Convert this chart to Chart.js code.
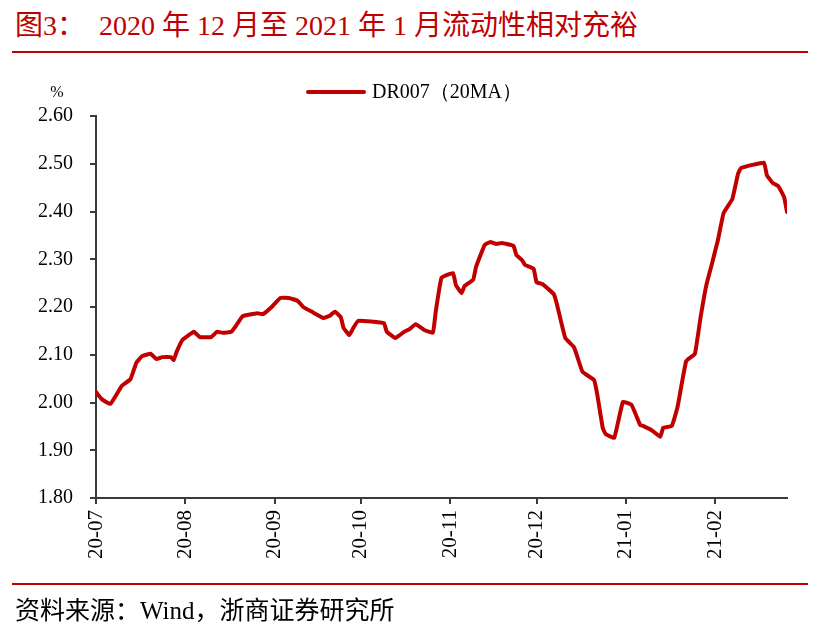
<!DOCTYPE html>
<html>
<head>
<meta charset="utf-8">
<script src="https://cdn.jsdelivr.net/npm/chart.js@4"></script>
<style>
  body { margin: 0; background: #fff; }
  #page { position: relative; width: 816px; height: 629px; overflow: hidden; background: #fff; }
  .title { position: absolute; left: 15px; top: 8px; font: 28px "Liberation Serif", "Noto Sans CJK SC", serif; color: #c00000; white-space: pre; line-height: 36px; }
  .rule { position: absolute; left: 12px; width: 796px; height: 2px; background: #c00000; }
  .source { position: absolute; left: 15px; top: 594px; font: 25px "Liberation Serif", "Noto Sans CJK SC", serif; color: #000; line-height: 34px; white-space: pre; }
  canvas { position: absolute; left: 0; top: 0; }
</style>
</head>
<body>
<div id="page">
  <div class="title">图3：  2020 年 12 月至 2021 年 1 月流动性相对充裕</div>
  <div class="rule" style="top:51px"></div>
  <canvas id="chart" width="816" height="629"></canvas>
  <div class="rule" style="top:583px"></div>
  <div class="source">资料来源：Wind，浙商证券研究所</div>
</div>
<script>
// days since 2020-07-01
const days = [0, 2, 5, 9, 12, 14, 16, 19, 21, 23, 26, 27, 28, 30, 34, 36, 40, 42, 44, 47,
  49, 51, 56, 58, 61, 64, 67, 70, 72, 75, 79, 81, 83, 85, 86, 88, 89, 91, 100, 101,
  104, 107, 109, 111, 114, 117, 118, 120, 124, 125, 127, 128, 131, 132, 135, 137, 139, 141, 145, 146,
  148, 149, 152, 153, 155, 157, 159, 160, 163, 166, 167, 169, 173, 174, 176, 177, 180, 183, 186, 189,
  190, 193, 196, 197, 200, 202, 205, 208, 210, 212, 214, 216, 218, 221, 223, 224, 232, 233, 235, 237,
  239, 240];
const dr007 = [2.022, 2.007, 1.997, 2.035, 2.049, 2.083, 2.097, 2.102, 2.091, 2.095, 2.095, 2.089, 2.106, 2.131, 2.148, 2.137, 2.137, 2.148, 2.146, 2.148,
  2.164, 2.181, 2.187, 2.185, 2.200, 2.219, 2.219, 2.213, 2.200, 2.190, 2.177, 2.181, 2.190, 2.179, 2.156, 2.141, 2.152, 2.171, 2.166, 2.148,
  2.135, 2.148, 2.154, 2.164, 2.152, 2.146, 2.190, 2.261, 2.271, 2.246, 2.229, 2.244, 2.257, 2.284, 2.330, 2.336, 2.332, 2.334, 2.328, 2.309,
  2.298, 2.288, 2.280, 2.252, 2.248, 2.238, 2.227, 2.208, 2.135, 2.116, 2.099, 2.064, 2.047, 2.020, 1.947, 1.934, 1.926, 2.001, 1.995, 1.953,
  1.951, 1.942, 1.928, 1.947, 1.951, 1.991, 2.087, 2.102, 2.179, 2.246, 2.292, 2.340, 2.397, 2.426, 2.479, 2.491, 2.502, 2.476, 2.460, 2.453,
  2.430, 2.399];
const monthTicks = [0, 31, 62, 92, 123, 153, 184, 215];
const monthLabels = ['20-07', '20-08', '20-09', '20-10', '20-11', '20-12', '21-01', '21-02'];

const RED = '#c00000';
const AXIS = '#3a3a3a';
const SERIF = '"Liberation Serif", "Times New Roman", serif';

const extras = {
  id: 'extras',
  afterDraw(chart) {
    const ctx = chart.ctx;
    ctx.save();
    // legend
    ctx.strokeStyle = RED;
    ctx.lineWidth = 4;
    ctx.lineCap = 'round';
    ctx.beginPath();
    ctx.moveTo(308, 92);
    ctx.lineTo(364, 92);
    ctx.stroke();
    ctx.fillStyle = '#000';
    ctx.font = '20px ' + SERIF;
    ctx.textBaseline = 'middle';
    ctx.fillText(chart.data.datasets[0].label, 372, 93);
    // unit
    ctx.font = '16px ' + SERIF;
    ctx.textAlign = 'center';
    ctx.fillText('%', 57, 93);
    ctx.restore();
  }
};

new Chart(document.getElementById('chart'), {
  type: 'line',
  data: {
    datasets: [{
      label: 'DR007（20MA）',
      data: days.map((d, i) => ({ x: d, y: dr007[i] })),
      borderColor: RED,
      borderWidth: 4,
      pointRadius: 0,
      tension: 0.1,
      borderJoinStyle: 'round',
      borderCapStyle: 'round'
    }]
  },
  options: {
    responsive: false,
    animation: false,
    layout: { padding: { left: 0, top: 116, right: 29, bottom: 31 } },
    plugins: { legend: { display: false }, tooltip: { enabled: false } },
    scales: {
      x: {
        type: 'linear',
        min: 0,
        max: 240,
        afterBuildTicks: (scale) => { scale.ticks = monthTicks.map(v => ({ value: v })); },
        afterFit: (scale) => { scale.height = 100; },
        border: { color: AXIS, width: 2 },
        grid: { drawOnChartArea: false, color: AXIS, lineWidth: 2, tickLength: 6 },
        ticks: {
          color: '#000',
          font: { family: SERIF, size: 21 },
          minRotation: 90,
          maxRotation: 90,
          padding: 6,
          autoSkip: false,
          callback: (v) => monthLabels[monthTicks.indexOf(v)]
        }
      },
      y: {
        min: 1.8,
        max: 2.6,
        afterFit: (scale) => { scale.width = 96; },
        border: { color: AXIS, width: 2 },
        grid: { drawOnChartArea: false, color: AXIS, lineWidth: 2, tickLength: 6 },
        ticks: {
          stepSize: 0.1,
          color: '#000',
          font: { family: SERIF, size: 20 },
          padding: 17,
          callback: (v) => v.toFixed(2)
        }
      }
    }
  },
  plugins: [extras]
});
</script>
</body>
</html>
